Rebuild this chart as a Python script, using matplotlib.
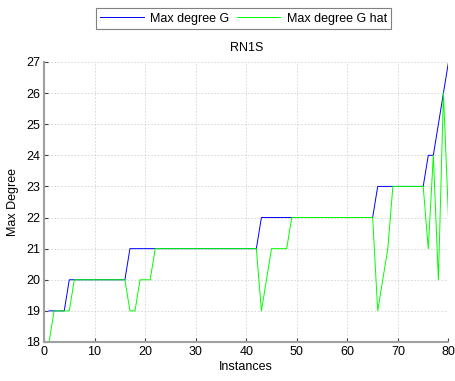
import matplotlib
matplotlib.use("Agg")
import matplotlib.pyplot as plt
import numpy as np

plt.rcParams['font.family'] = ['Liberation Sans', 'DejaVu Sans']

# instances 1..80
instances = np.arange(1, 81)

# Max degree of G
max_deg_g = ([19] * 4 + [20] * 12 + [21] * 26 + [22] * 23 + [23] * 10
             + [24, 24, 25, 26, 27])

# Max degree of G hat
max_deg_g_hat = ([18] + [19] * 4 + [20] * 11 + [19, 19, 20, 20, 20]
                 + [21] * 21 + [19, 20, 21, 21, 21, 21] + [22] * 17
                 + [19, 20, 21] + [23] * 7 + [21, 24, 20, 26, 22])

x_ticks = list(range(0, 81, 10))
y_ticks = list(range(18, 28))

fig = plt.figure(figsize=(4.55, 3.81), dpi=100)
ax = fig.add_axes([0.0967, 0.1024, 0.889, 0.735])

ax.plot(instances, max_deg_g, color='#0000ff', lw=0.7, label='Max degree G')
ax.plot(instances, max_deg_g_hat, color='#00ff00', lw=0.7, label='Max degree G hat')

ax.set_xlim(0, 80)
ax.set_ylim(18, 27)
ax.set_xticks(x_ticks)
ax.set_yticks(y_ticks)
ax.grid(True, color='#d4d4d4', linestyle=(0, (2, 2)), linewidth=0.6)
ax.set_axisbelow(True)

for side in ['top', 'right']:
    ax.spines[side].set_visible(False)
for side in ['left', 'bottom']:
    ax.spines[side].set_color('#a0a0a0')
    ax.spines[side].set_linewidth(1.5)

ax.tick_params(direction='in', length=3, width=0.8, color='#404040',
               labelsize=9, pad=3)

ax.set_title('RN1S', fontsize=9, pad=8)
ax.set_xlabel('Instances', fontsize=9, labelpad=2)
ax.set_ylabel('Max Degree', fontsize=9, labelpad=5)

leg = fig.legend(loc='upper center', bbox_to_anchor=(0.535, 0.995), ncol=2,
                 fontsize=9, fancybox=False, frameon=True, handlelength=3.5,
                 borderpad=0.35, columnspacing=0.6, handletextpad=0.5)
leg.get_frame().set_edgecolor('#606060')
leg.get_frame().set_linewidth(0.8)

fig.savefig('out.png', dpi=100)
